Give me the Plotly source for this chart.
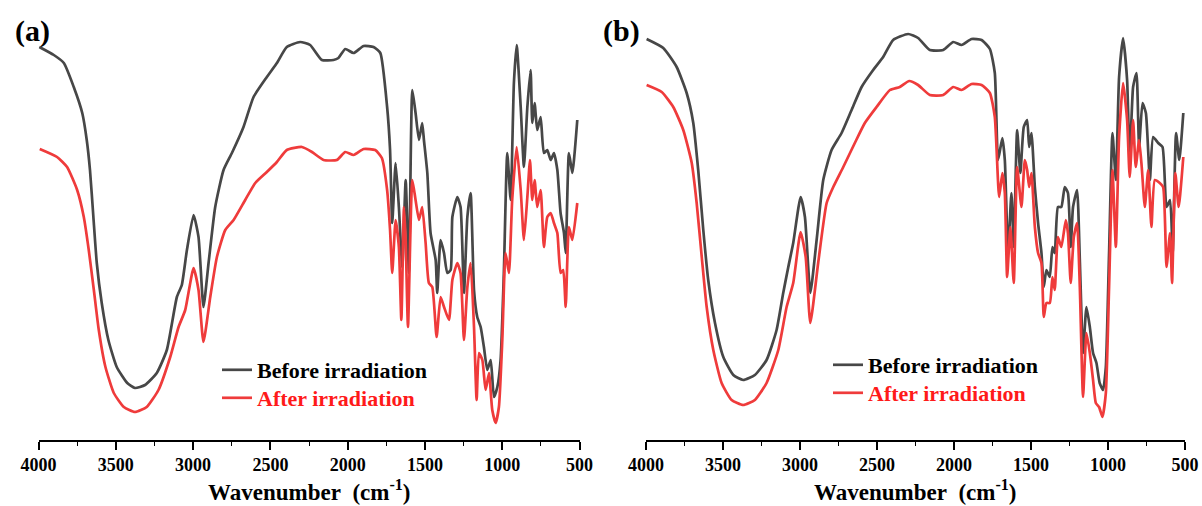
import plotly.graph_objects as go

# ---------------- data (transmittance in arbitrary units) ----------------
# Panel (a)
a_before_wn = [3995, 3901, 3836, 3772, 3717, 3688, 3667, 3645, 3623, 3591, 3548, 3494, 3426, 3376, 3311,
               3235, 3170, 3105, 3073, 3040, 2997, 2965, 2933, 2900, 2857, 2803, 2749, 2674, 2609, 2523,
               2458, 2394, 2308, 2243, 2167, 2092, 2060, 2016, 1962, 1897, 1833, 1789, 1745, 1726, 1712,
               1690, 1669, 1647, 1625, 1604, 1582, 1561, 1539, 1518, 1507, 1485, 1464, 1431, 1421, 1399,
               1377, 1356, 1334, 1323, 1291, 1270, 1248, 1226, 1205, 1183, 1162, 1140, 1119, 1097, 1075,
               1054, 1032, 1011, 990, 968, 946, 925, 907, 881, 860, 838, 817, 806, 791, 774, 752, 731,
               709, 687, 666, 644, 623, 601, 590, 569, 547, 515]
a_before_t = [393, 385, 377, 353, 327, 300, 270, 223, 177, 137, 100, 73, 57, 52, 55,
              67, 90, 143, 155, 190, 225, 203, 133, 177, 233, 270, 287, 313, 343, 363,
              377, 393, 398, 395, 380, 380, 382, 391, 387, 394, 393, 387, 333, 290, 217,
              277, 233, 173, 260, 167, 350, 327, 300, 317, 300, 267, 207, 180, 147, 200,
              187, 167, 170, 223, 243, 233, 147, 223, 247, 150, 123, 113, 93, 70, 80,
              43, 53, 80, 167, 287, 240, 357, 395, 333, 273, 333, 370, 317, 337, 310, 323, 287,
              290, 280, 287, 270, 227, 207, 187, 287, 267, 320]

a_after_wn = [3992, 3880, 3815, 3750, 3707, 3675, 3642, 3610, 3567, 3513, 3448, 3376, 3300, 3224, 3148,
              3094, 3051, 2997, 2965, 2933, 2889, 2846, 2792, 2738, 2663, 2598, 2523, 2458, 2394, 2296,
              2231, 2156, 2070, 2016, 1962, 1897, 1822, 1779, 1745, 1726, 1712, 1690, 1669, 1653, 1636,
              1625, 1610, 1582, 1561, 1539, 1518, 1496, 1475, 1453, 1425, 1399, 1377, 1345, 1323, 1291,
              1270, 1248, 1226, 1205, 1183, 1166, 1151, 1129, 1108, 1086, 1065, 1043, 1022, 1000, 979,
              957, 936, 907, 881, 860, 838, 821, 806, 791, 774, 752, 731, 709, 687, 666, 644, 623, 606,
              590, 569, 547, 515]
a_after_t = [291, 283, 273, 250, 223, 190, 150, 110, 73, 47, 33, 28, 33, 50, 83,
             113, 130, 172, 150, 98, 143, 183, 210, 220, 240, 257, 268, 278, 290, 293,
             288, 280, 280, 288, 285, 291, 290, 282, 250, 210, 167, 220, 193, 120, 233,
             200, 113, 260, 240, 220, 233, 197, 157, 153, 103, 143, 133, 120, 160, 177,
             167, 100, 153, 177, 113, 40, 87, 80, 50, 67, 30, 17, 33, 100, 187,
             167, 240, 293, 250, 200, 243, 280, 240, 260, 233, 250, 193, 223, 227, 217, 207, 167, 170,
             133, 213, 200, 237]

# Panel (b)
b_before_wn = [3996, 3888, 3801, 3736, 3693, 3661, 3628, 3596, 3552, 3498, 3433, 3369, 3293, 3217, 3152,
               3109, 3076, 3044, 2996, 2968, 2933, 2892, 2849, 2795, 2730, 2665, 2600, 2525, 2460, 2395,
               2298, 2233, 2157, 2070, 2005, 1951, 1886, 1821, 1767, 1735, 1714, 1686, 1670, 1649, 1627,
               1612, 1590, 1569, 1547, 1525, 1512, 1497, 1475, 1454, 1432, 1417, 1400, 1378, 1361, 1346,
               1325, 1303, 1281, 1260, 1242, 1227, 1201, 1183, 1162, 1140, 1118, 1097, 1075, 1054, 1032,
               1014, 993, 971, 949, 928, 902, 876, 859, 837, 815, 798, 776, 754, 728, 707, 674, 646,
               620, 597, 580, 558, 537, 511]
b_before_t = [401, 392, 373, 347, 317, 270, 210, 160, 117, 83, 65, 60, 65, 80, 110,
              147, 173, 197, 243, 223, 147, 200, 260, 290, 307, 330, 353, 370, 383, 400,
              406, 402, 390, 390, 398, 395, 401, 400, 391, 367, 280, 302, 280, 187, 247,
              193, 310, 267, 313, 320, 293, 307, 253, 217, 187, 153, 170, 163, 193, 187,
              233, 233, 253, 247, 193, 233, 250, 180, 87, 133, 113, 87, 77, 57, 50,
              73, 187, 307, 260, 363, 402, 360, 280, 353, 367, 293, 337, 327, 260, 303, 297, 293,
              233, 240, 187, 307, 280, 327]

b_after_wn = [3996, 3898, 3823, 3758, 3703, 3671, 3638, 3606, 3563, 3509, 3444, 3369, 3293, 3217, 3141,
              3087, 3044, 2996, 2963, 2933, 2882, 2827, 2784, 2719, 2644, 2579, 2503, 2416, 2352, 2291,
              2233, 2157, 2070, 2005, 1951, 1886, 1821, 1767, 1735, 1707, 1686, 1670, 1655, 1634, 1612,
              1590, 1562, 1540, 1525, 1512, 1497, 1475, 1454, 1432, 1417, 1400, 1378, 1361, 1346, 1325,
              1303, 1274, 1260, 1242, 1222, 1201, 1183, 1162, 1140, 1118, 1097, 1079, 1058, 1036, 1014,
              993, 971, 949, 928, 902, 876, 859, 837, 820, 798, 781, 761, 739, 718, 696, 664, 642,
              620, 597, 584, 563, 541, 511]
b_after_t = [355, 348, 333, 310, 277, 237, 183, 133, 90, 57, 40, 35, 40, 57, 90,
             133, 157, 208, 183, 117, 177, 237, 253, 273, 297, 317, 333, 350, 353, 359,
             355, 345, 345, 353, 350, 356, 355, 347, 323, 243, 267, 247, 163, 213, 157,
             273, 233, 280, 270, 253, 267, 213, 187, 177, 123, 137, 137, 163, 150, 203,
             193, 220, 207, 157, 203, 217, 153, 43, 107, 87, 60, 37, 33, 23, 47,
             153, 270, 193, 303, 357, 320, 263, 320, 273, 300, 273, 233, 270, 213, 260, 257, 253,
             173, 207, 157, 267, 233, 283]

series_names = ["Before irradiation", "After irradiation"]
panel_labels = ["(a)", "(b)"]
tick_vals = [4000, 3500, 3000, 2500, 2000, 1500, 1000, 500]
tick_text = ["4000", "3500", "3000", "2500", "2000", "1500", "1000", "500"]

# ---------------- styling ----------------
BLACK = "#474747"
RED = "#ef3b3b"
FONT = "Liberation Serif, Times New Roman, serif"
W, H = 1202, 506
TOP, BOT = 30, 440          # plot area top / bottom in pixels
PH = BOT - TOP


def py_to_paper(py):
    return (BOT - py) / PH


fig = go.Figure()

# (x-axis, y-axis, legend for "before", legend for "after")
panels = [
    (a_before_wn, a_before_t, a_after_wn, a_after_t, "x", "y", "legend", "legend2"),
    (b_before_wn, b_before_t, b_after_wn, b_after_t, "x2", "y2", "legend3", "legend4"),
]
for bw, bt, aw, at, xa, ya, lg1, lg2 in panels:
    fig.add_trace(go.Scatter(x=bw, y=bt, mode="lines", xaxis=xa, yaxis=ya, legend=lg1,
                             name="<b>" + series_names[0] + "</b>",
                             line=dict(color=BLACK, width=2.7, shape="spline", smoothing=0.5)))
    fig.add_trace(go.Scatter(x=aw, y=at, mode="lines", xaxis=xa, yaxis=ya, legend=lg2,
                             name="<b><span style='color:#ff1a1a'>" + series_names[1] + "</span></b>",
                             line=dict(color=RED, width=2.7, shape="spline", smoothing=0.5)))

xcommon = dict(range=[4000, 500], showgrid=False, zeroline=False, showline=True,
               linecolor="black", linewidth=1.6, ticks="outside", ticklen=8, tickwidth=1.6,
               tickcolor="black", tickvals=tick_vals, ticktext=["<b>" + t + "</b>" for t in tick_text],
               tickfont=dict(family=FONT, size=18, color="black"),
               minor=dict(ticks="outside", ticklen=4, tickwidth=1.4, tickcolor="black", dtick=250),
               mirror=False, automargin=False)
ycommon = dict(range=[0, 410], visible=False, showgrid=False, zeroline=False, fixedrange=True)


def leg(xpx, ypx):
    return dict(x=xpx / W, y=py_to_paper(ypx), xanchor="left", yanchor="middle",
                bgcolor="rgba(0,0,0,0)", borderwidth=0,
                font=dict(family=FONT, size=22, color="black"))


dom_a = [38.5 / W, 579.6 / W]
dom_b = [646 / W, 1185 / W]
fig.update_layout(
    width=W, height=H,
    margin=dict(l=0, r=0, t=TOP, b=H - BOT, autoexpand=False),
    paper_bgcolor="white", plot_bgcolor="white",
    xaxis=dict(domain=dom_a, anchor="y", **xcommon),
    xaxis2=dict(domain=dom_b, anchor="y2", **xcommon),
    yaxis=dict(domain=[0, 1], anchor="x", **ycommon),
    yaxis2=dict(domain=[0, 1], anchor="x2", **ycommon),
    legend=leg(217, 370),
    legend2=leg(217, 398),
    legend3=leg(828, 365),
    legend4=leg(828, 393),
    showlegend=True,
)

annotations = []
for lab, xc in zip(panel_labels, [32, 621]):
    annotations.append(dict(text="<b>" + lab + "</b>", x=xc / W, y=py_to_paper(31), xref="paper",
                            yref="paper", yanchor="middle", xanchor="center", showarrow=False,
                            font=dict(family=FONT, size=30, color="black")))
for xc in [(dom_a[0] + dom_a[1]) / 2, (dom_b[0] + dom_b[1]) / 2]:
    annotations.append(dict(text="<b>Wavenumber&nbsp;&nbsp;(cm<sup>-1</sup>)</b>", x=xc,
                            y=py_to_paper(490), xref="paper", yref="paper", xanchor="center",
                            yanchor="middle", showarrow=False,
                            font=dict(family=FONT, size=23, color="black")))
fig.update_layout(annotations=annotations)

fig.write_html("out.html")
